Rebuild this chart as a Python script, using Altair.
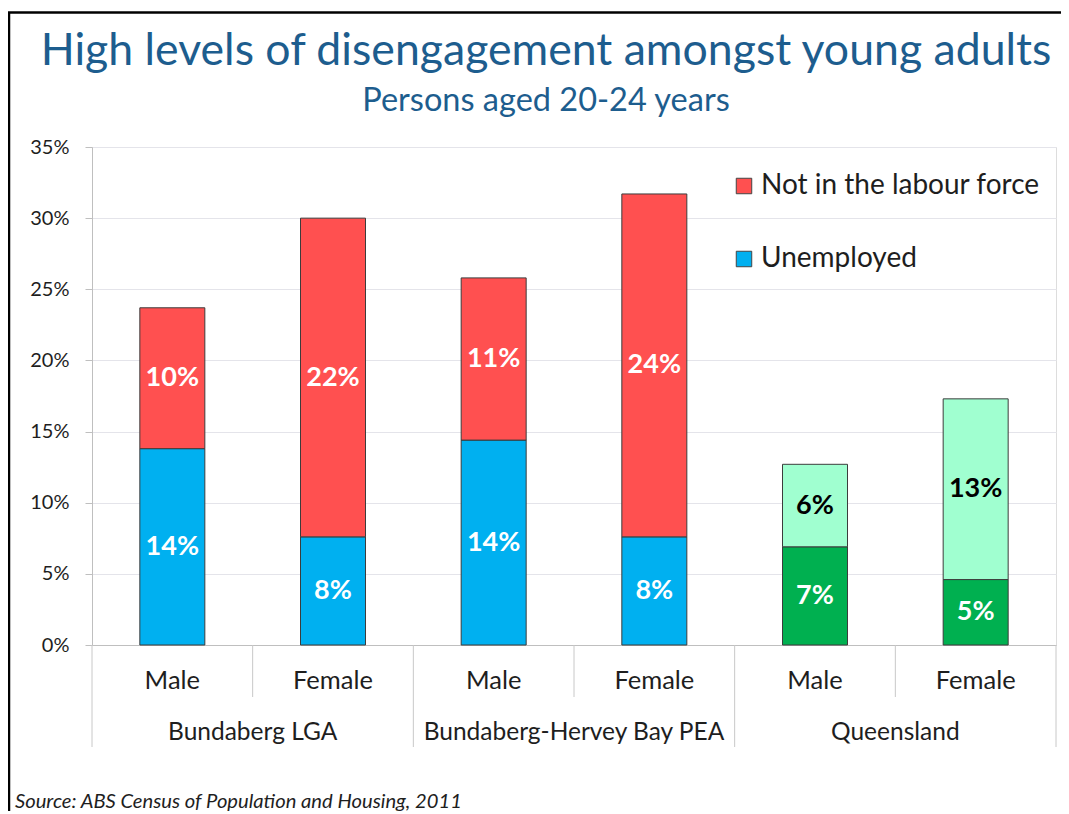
import altair as alt
import pandas as pd

# ---- data ----
regions = ["Bundaberg LGA", "Bundaberg LGA",
           "Bundaberg-Hervey Bay PEA", "Bundaberg-Hervey Bay PEA",
           "Queensland", "Queensland"]
sexes = ["Male", "Female", "Male", "Female", "Male", "Female"]
unemployed = [0.138, 0.076, 0.144, 0.076, 0.069, 0.046]
not_in_labour_force = [0.099, 0.224, 0.114, 0.241, 0.058, 0.127]

series_names = ["Not in the labour force", "Unemployed"]
qld_series_names = ["Queensland - not in the labour force", "Queensland - unemployed"]
y_ticks = [0, 0.05, 0.10, 0.15, 0.20, 0.25, 0.30, 0.35]

title_text = "High levels of disengagement amongst young adults"
subtitle_text = "Persons aged 20-24 years"
source_text = "Source: ABS Census of Population and Housing, 2011"

# ---- build tables ----
keys = [f"{r}|{s}" for r, s in zip(regions, sexes)]
rows = []
for k, r, s, u, n in zip(keys, regions, sexes, unemployed, not_in_labour_force):
    qld = r == "Queensland"
    rows.append(dict(key=k, region=r, sex=s, value=u, y0=0.0, y1=u, mid=u / 2,
                     ckey=qld_series_names[1] if qld else series_names[1],
                     tcolor="white"))
    rows.append(dict(key=k, region=r, sex=s, value=n, y0=u, y1=u + n, mid=u + n / 2,
                     ckey=qld_series_names[0] if qld else series_names[0],
                     tcolor="black" if qld else "white"))
df = pd.DataFrame(rows)
cat = pd.DataFrame(dict(key=keys, region=regions, sex=sexes))
male_keys = cat[cat.sex == "Male"]
female_keys = cat[cat.sex == "Female"]
last_key = cat.tail(1)

W, H = 964, 498
FONT = "Lato"
TITLE_BLUE = "#1D5D8E"

xscale = alt.Scale(domain=keys, paddingInner=0, paddingOuter=0)
yscale = alt.Scale(domain=[0, 0.35], nice=False)

color_domain = series_names + qld_series_names
color_range = ["#FF5050", "#00B0F0", "#A0FFD0", "#00B050"]

bars = alt.Chart(df).mark_bar(size=65, stroke="#3C3C3C", strokeWidth=1).encode(
    x=alt.X("key:N", scale=xscale, sort=keys,
            axis=alt.Axis(title=None, labelExpr="split(datum.label, '|')[1]",
                          labelAngle=0, ticks=False, domainColor="#BFBFBF",
                          labelFontSize=25.5, labelColor="#1E1E1E", labelFont=FONT,
                          labelBaseline="alphabetic", labelPadding=43, grid=False)),
    y=alt.Y("y0:Q", scale=yscale,
            axis=alt.Axis(title=None, values=y_ticks, format=".0%", tickSize=7,
                          tickColor="#BFBFBF", domainColor="#BFBFBF",
                          gridColor="#E4E4EA", labelFontSize=20, labelFont=FONT,
                          labelColor="#1E1E1E", labelPadding=16)),
    y2="y1:Q",
    color=alt.Color("ckey:N", scale=alt.Scale(domain=color_domain, range=color_range),
                    legend=alt.Legend(values=series_names, title=None, orient="none",
                                      legendX=638, legendY=25, padding=0,
                                      symbolType="square", symbolSize=240,
                                      symbolStrokeColor="#444444", symbolStrokeWidth=1,
                                      symbolOpacity=1,
                                      labelFontSize=28, labelFont=FONT, labelColor="#1E1E1E",
                                      labelOffset=3, rowPadding=45, labelLimit=400)),
)

labels = alt.Chart(df).mark_text(fontSize=27, fontWeight="bold", font=FONT).encode(
    x=alt.X("key:N", scale=xscale, sort=keys),
    y=alt.Y("mid:Q", scale=yscale),
    text=alt.Text("value:Q", format=".0%"),
    color=alt.Color("tcolor:N", scale=None),
)

short_sep = alt.Chart(female_keys).mark_rule(color="#C8C8C8", strokeWidth=1).encode(
    x=alt.X("key:N", scale=xscale, sort=keys, bandPosition=0),
    y=alt.value(H), y2=alt.value(H + 52),
)
long_sep = alt.Chart(male_keys).mark_rule(color="#C8C8C8", strokeWidth=1).encode(
    x=alt.X("key:N", scale=xscale, sort=keys, bandPosition=0),
    y=alt.value(H), y2=alt.value(H + 102),
)
end_sep = alt.Chart(last_key).mark_rule(color="#C8C8C8", strokeWidth=1).encode(
    x=alt.X("key:N", scale=xscale, sort=keys, bandPosition=1),
    y=alt.value(H), y2=alt.value(H + 102),
)
region_labels = alt.Chart(male_keys).mark_text(
    fontSize=24.5, font=FONT, color="#1E1E1E", baseline="alphabetic").encode(
    x=alt.X("key:N", scale=xscale, sort=keys, bandPosition=1),
    y=alt.value(H + 95),
    text="region:N",
)
source = alt.Chart(pd.DataFrame({"t": [source_text]})).mark_text(
    fontSize=20.2, font=FONT, fontStyle="italic", color="#1E1E1E",
    align="left", baseline="alphabetic").encode(
    x=alt.value(-77), y=alt.value(H + 163), text="t:N")

title = alt.Chart(pd.DataFrame({"t": [title_text]})).mark_text(
    fontSize=44.6, font=FONT, color=TITLE_BLUE, align="center", baseline="alphabetic").encode(
    x=alt.value(454), y=alt.value(-82), text="t:N")
subtitle = alt.Chart(pd.DataFrame({"t": [subtitle_text]})).mark_text(
    fontSize=32.5, font=FONT, color=TITLE_BLUE, align="center", baseline="alphabetic").encode(
    x=alt.value(454), y=alt.value(-36), text="t:N")

frame_top = alt.Chart(pd.DataFrame({"a": [0]})).mark_rule(color="black", strokeWidth=2.5).encode(
    x=alt.value(-84), x2=alt.value(W + 20), y=alt.value(-134.5))
frame_left = alt.Chart(pd.DataFrame({"a": [0]})).mark_rule(color="black", strokeWidth=2.5).encode(
    x=alt.value(-83), y=alt.value(-135), y2=alt.value(H + 200))

chart = alt.layer(bars, labels, short_sep, long_sep, end_sep, region_labels, source,
                  title, subtitle, frame_top, frame_left).properties(
    width=W, height=H,
    autosize=alt.AutoSizeParams(type="none"),
    padding={"left": 84, "top": 139, "right": 5, "bottom": 166},
).configure_view(stroke=None).configure(background="white")

chart.save("out.html", embed_options={"renderer": "svg", "actions": False})
